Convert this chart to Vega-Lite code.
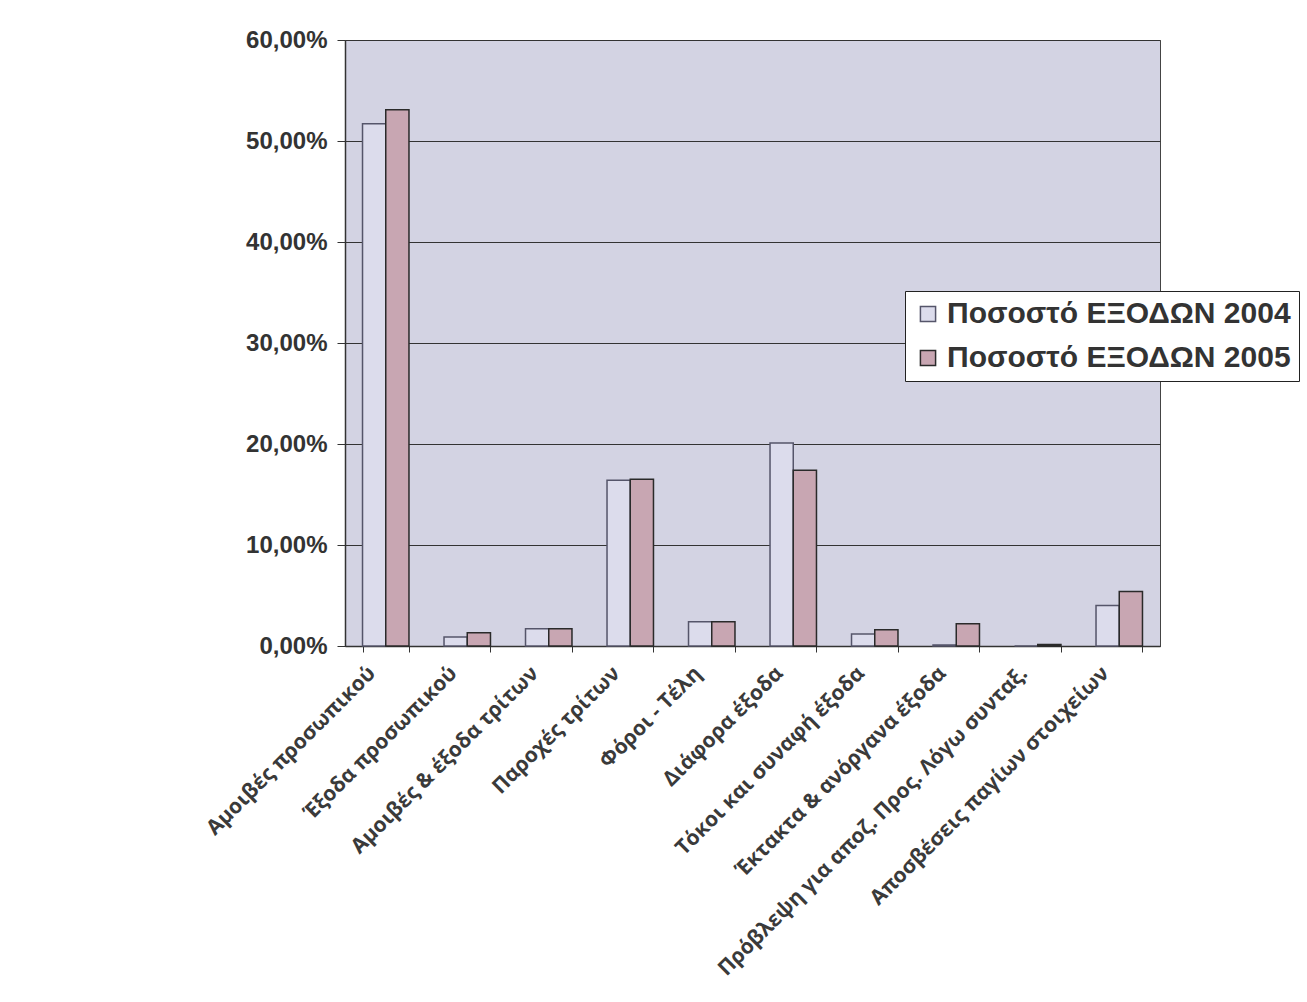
{
  "$schema": "https://vega.github.io/schema/vega-lite/v6.json",
  "autosize": {"type": "none"},
  "width": 815,
  "height": 606,
  "padding": {"left": 345, "top": 40, "right": 147, "bottom": 356},
  "background": "white",
  "config": {
    "view": {"fill": "#d3d3e3", "stroke": "#444444", "strokeWidth": 1},
    "font": "Liberation Sans"
  },
  "data": {
    "values": [
      {"cat": "Αμοιβές προσωπικού", "series": "Ποσοστό ΕΞΟΔΩΝ 2004", "v": 0.517},
      {"cat": "Αμοιβές προσωπικού", "series": "Ποσοστό ΕΞΟΔΩΝ 2005", "v": 0.531},
      {"cat": "Έξοδα προσωπικού", "series": "Ποσοστό ΕΞΟΔΩΝ 2004", "v": 0.009},
      {"cat": "Έξοδα προσωπικού", "series": "Ποσοστό ΕΞΟΔΩΝ 2005", "v": 0.013},
      {"cat": "Αμοιβές & έξοδα τρίτων", "series": "Ποσοστό ΕΞΟΔΩΝ 2004", "v": 0.017},
      {"cat": "Αμοιβές & έξοδα τρίτων", "series": "Ποσοστό ΕΞΟΔΩΝ 2005", "v": 0.017},
      {"cat": "Παροχές τρίτων", "series": "Ποσοστό ΕΞΟΔΩΝ 2004", "v": 0.164},
      {"cat": "Παροχές τρίτων", "series": "Ποσοστό ΕΞΟΔΩΝ 2005", "v": 0.165},
      {"cat": "Φόροι - Τέλη", "series": "Ποσοστό ΕΞΟΔΩΝ 2004", "v": 0.024},
      {"cat": "Φόροι - Τέλη", "series": "Ποσοστό ΕΞΟΔΩΝ 2005", "v": 0.024},
      {"cat": "Διάφορα έξοδα", "series": "Ποσοστό ΕΞΟΔΩΝ 2004", "v": 0.201},
      {"cat": "Διάφορα έξοδα", "series": "Ποσοστό ΕΞΟΔΩΝ 2005", "v": 0.174},
      {"cat": "Τόκοι και συναφή έξοδα", "series": "Ποσοστό ΕΞΟΔΩΝ 2004", "v": 0.012},
      {"cat": "Τόκοι και συναφή έξοδα", "series": "Ποσοστό ΕΞΟΔΩΝ 2005", "v": 0.016},
      {"cat": "Έκτακτα & ανόργανα έξοδα", "series": "Ποσοστό ΕΞΟΔΩΝ 2004", "v": 0.001},
      {"cat": "Έκτακτα & ανόργανα έξοδα", "series": "Ποσοστό ΕΞΟΔΩΝ 2005", "v": 0.022},
      {"cat": "Πρόβλεψη για αποζ. Προς. Λόγω συνταξ.", "series": "Ποσοστό ΕΞΟΔΩΝ 2004", "v": 0.0},
      {"cat": "Πρόβλεψη για αποζ. Προς. Λόγω συνταξ.", "series": "Ποσοστό ΕΞΟΔΩΝ 2005", "v": 0.0015},
      {"cat": "Αποσβέσεις παγίων στοιχείων", "series": "Ποσοστό ΕΞΟΔΩΝ 2004", "v": 0.040},
      {"cat": "Αποσβέσεις παγίων στοιχείων", "series": "Ποσοστό ΕΞΟΔΩΝ 2005", "v": 0.054}
    ]
  },
  "mark": {"type": "bar", "strokeWidth": 1.5},
  "encoding": {
    "x": {
      "field": "cat",
      "type": "nominal",
      "sort": null,
      "scale": {"paddingInner": 0.43, "paddingOuter": 0.215},
      "axis": {
        "title": null,
        "labelAngle": -45,
        "labelAlign": "right",
        "labelBaseline": "middle",
        "labelFont": "Open Sans",
        "labelFontWeight": "bold",
        "labelFontSize": 21,
        "labelColor": "#3a3a3a",
        "labelPadding": 18,
        "labelOffset": -14,
        "labelLimit": 700,
        "tickBand": "extent",
        "tickColor": "#333333",
        "tickSize": 6,
        "domainColor": "#333333",
        "domainWidth": 1.5
      }
    },
    "xOffset": {"field": "series", "type": "nominal"},
    "y": {
      "field": "v",
      "type": "quantitative",
      "scale": {"domain": [0, 0.6], "nice": false},
      "axis": {
        "title": null,
        "values": [0, 0.1, 0.2, 0.3, 0.4, 0.5, 0.6],
        "labelExpr": "replace(format(datum.value, '.2%'), '.', ',')",
        "labelFont": "Liberation Sans",
        "labelFontWeight": "bold",
        "labelFontSize": 24,
        "labelColor": "#333333",
        "labelPadding": 10,
        "tickColor": "#333333",
        "tickSize": 8,
        "domainColor": "#333333",
        "domainWidth": 1.5,
        "grid": true,
        "gridColor": "#333333",
        "gridWidth": 1
      }
    },
    "stroke": {
      "field": "series",
      "type": "nominal",
      "scale": {"range": ["#55556a", "#2a2a2a"]},
      "legend": null
    },
    "fill": {
      "field": "series",
      "type": "nominal",
      "scale": {"range": ["#dcdcec", "#c8a6b2"]},
      "legend": {
        "title": null,
        "orient": "none",
        "legendX": 560,
        "legendY": 251,
        "fillColor": "white",
        "strokeColor": "#222222",
        "padding": 8,
        "labelFont": "Liberation Sans",
        "labelFontWeight": "bold",
        "labelFontSize": 30,
        "labelColor": "#333333",
        "labelLimit": 600,
        "symbolType": "square",
        "symbolSize": 230,
        "symbolStrokeColor": "#555555",
        "symbolStrokeWidth": 1.5,
        "rowPadding": 14,
        "labelOffset": 4
      }
    }
  }
}
